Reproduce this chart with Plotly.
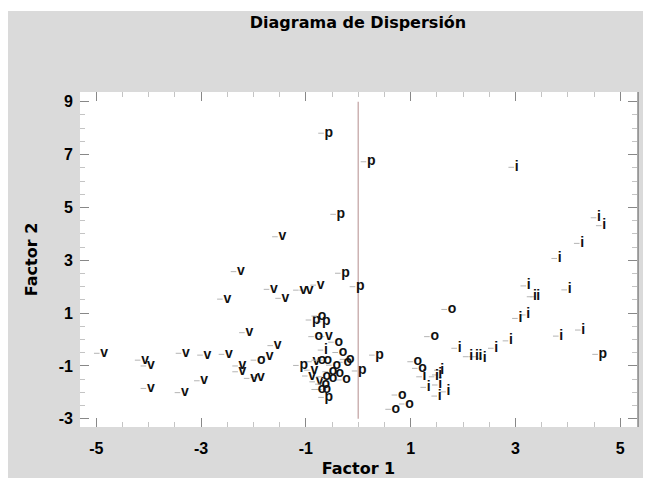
import plotly.graph_objects as go

# Data (Factor 1, Factor 2) per group label
v_x = [-2.28, -1.65, -1.43, -1.09, -0.97, -0.76, -2.54, -1.49, -2.12, -0.60, -1.58, -4.89, -3.33, -2.92, -2.51,
       -4.11, -4.00, -1.73, -2.25, -2.25, -2.03, -1.90, -2.98, -4.00, -3.35, -0.84, -0.88, -0.92, -0.78]
v_y = [2.57, 1.90, 1.56, 1.87, 1.87, 2.06, 1.53, 3.89, 0.26, 0.11, -0.23, -0.52, -0.52, -0.59, -0.56,
       -0.78, -1.00, -0.65, -1.00, -1.22, -1.47, -1.43, -1.56, -1.85, -2.01, -0.84, -1.16, -1.38, -1.60]

p_x = [-0.61, 0.20, -0.38, -0.29, -0.01, -0.85, -0.66, -1.09, 0.03, 0.36, -0.61, 4.62]
p_y = [7.81, 6.73, 4.74, 2.51, 2.00, 0.74, 0.67, -0.98, -1.19, -0.59, -2.19, -0.56]

o_x = [1.74, 1.41, -0.74, -0.80, -0.42, -0.34, -0.20, -0.25, -0.74, -0.63, -0.46, -0.53, -0.40,
       -0.65, -0.53, -0.27, -0.67, -0.74, -0.65, -1.90, 1.09, 1.18, 0.79, 0.93, 0.67]
o_y = [1.14, 0.11, 0.89, 0.11, -0.10, -0.49, -0.75, -0.86, -0.78, -0.78, -0.97, -1.22, -1.28,
       -1.41, -1.47, -1.53, -1.69, -1.89, -1.89, -0.78, -0.84, -1.09, -2.10, -2.44, -2.64]

i_x = [3.02, 4.59, 4.69, 4.27, 3.84, 3.25, 3.37, 3.43, 4.03, 3.09, 3.24, 2.91, 3.87, 4.29, 1.93,
       2.15, 2.26, 2.33, 2.41, 2.63, -0.62, 1.26, 1.50, 1.56, 1.60, 1.34, 1.56, 1.55, 1.72]
i_y = [6.52, 4.61, 4.31, 3.64, 3.07, 2.03, 1.62, 1.62, 1.88, 0.80, 0.93, -0.05, 0.13, 0.36, -0.33,
       -0.65, -0.65, -0.65, -0.71, -0.33, -0.40, -1.41, -1.41, -1.34, -1.16, -1.81, -1.72, -2.14, -1.98]

groups = [("v", v_x, v_y), ("p", p_x, p_y), ("o", o_x, o_y), ("i", i_x, i_y)]

x_ticks = [-5, -3, -1, 1, 3, 5]
y_ticks = [-3, -1, 1, 3, 5, 7, 9]

TEXT_SHIFT = 0.10  # labels are drawn just right of the point marker

fig = go.Figure()
for label, xs, ys in groups:
    fig.add_trace(go.Scatter(
        x=[x - TEXT_SHIFT for x in xs], y=ys,
        mode="markers+text",
        text=[label] * len(xs),
        textposition="middle right",
        textfont=dict(family="Liberation Sans, Arial", size=14, color="#111111", weight="bold"),
        marker=dict(symbol="line-ew", size=4, line=dict(color="#b4b4b4", width=1)),
        showlegend=False,
        cliponaxis=False,
    ))

W, H = 651, 470
L, T, R, B = 72, 84, 22, 51
pw, ph = W - L - R, H - T - B

GRAY = "#dadada"
# thin white strip at the very top, white plot area, dark right edge
fig.add_shape(type="rect", xref="paper", yref="paper",
              x0=-L / pw - 0.01, x1=(W - L) / pw + 0.01, y0=(ph + T - 3) / ph, y1=(ph + T) / ph + 0.01,
              fillcolor="white", line_width=0, layer="below")
fig.add_shape(type="rect", xref="paper", yref="paper", x0=0, x1=1, y0=0, y1=1,
              fillcolor="white", line_width=0, layer="below")
fig.add_shape(type="line", xref="paper", yref="paper", x0=1.002, x1=1.002, y0=0, y1=1,
              line=dict(color="#8c8c8c", width=1.5))
# reference line at Factor 1 = 0
fig.add_shape(type="line", xref="x", yref="y", x0=0, x1=0, y0=-3, y1=9,
              line=dict(color="#cdb3b3", width=1.5), layer="below")

tick_font = dict(family="Liberation Sans, Arial", size=16, color="black", weight="bold")
title_font = dict(family="DejaVu Sans", size=16, color="black", weight="bold")

fig.update_layout(
    width=W, height=H,
    margin=dict(l=L, r=R, t=T, b=B),
    paper_bgcolor=GRAY,
    plot_bgcolor="rgba(0,0,0,0)",
    title=dict(text="Diagrama de Dispersión", x=350 / W, xanchor="center", xref="container",
               y=1 - 14 / H, yanchor="middle", yref="container",
               font=dict(family="DejaVu Sans", size=16, color="black", weight="bold")),
    xaxis=dict(range=[-5.31, 5.32], tickmode="array", tickvals=x_ticks, ticktext=[str(t) for t in x_ticks],
               ticks="inside", ticklen=9, tickcolor="#888888", mirror="ticks", showline=False,
               showgrid=False, zeroline=False, tickfont=tick_font, automargin=False, ticklabelstandoff=10,
               minor=dict(tickmode="linear", tick0=0, dtick=0.5, ticks="inside", ticklen=5, tickcolor="#c4c4c4"),
               title=dict(text="Factor 1", font=title_font, standoff=8)),
    yaxis=dict(range=[-3.31, 9.37], tickmode="array", tickvals=y_ticks, ticktext=[str(t) for t in y_ticks],
               ticks="inside", ticklen=9, tickcolor="#888888", mirror="ticks", showline=False,
               showgrid=False, zeroline=False, tickfont=tick_font, automargin=False, ticklabelstandoff=6,
               minor=dict(tickmode="linear", tick0=0, dtick=0.5, ticks="inside", ticklen=5, tickcolor="#c4c4c4"),
               title=dict(text="Factor 2", font=title_font, standoff=17)),
)

fig.write_html("out.html")
